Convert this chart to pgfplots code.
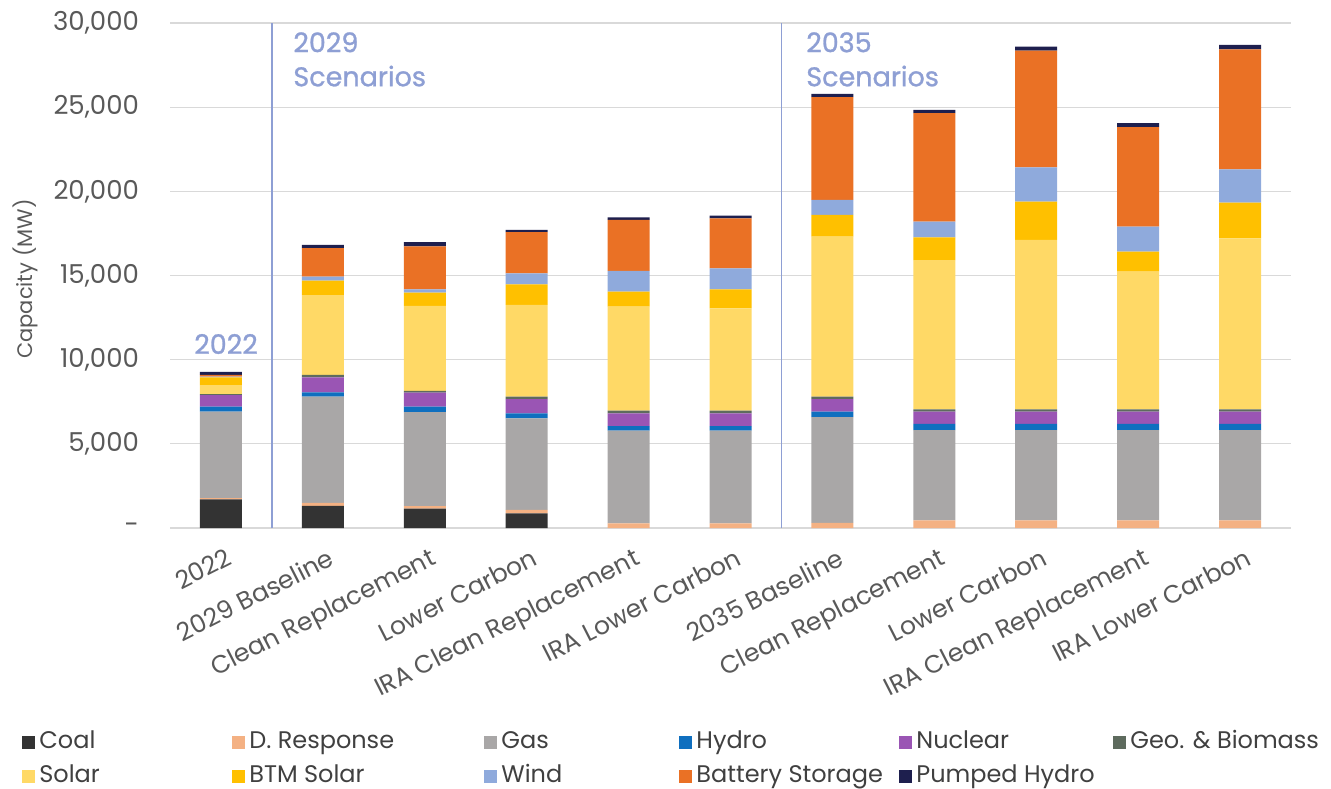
\documentclass[border=0pt]{standalone}
\usepackage{fontspec}
\setmainfont{Poppins}
\newfontfamily\medfont[FakeBold=1.0]{Poppins}
\usepackage{pgfplots}
\usepackage{pgfplotstable}
\pgfplotsset{compat=1.18}

\definecolor{cCoal}{HTML}{333333}
\definecolor{cDR}{HTML}{F4B183}
\definecolor{cGas}{HTML}{A9A7A7}
\definecolor{cHydro}{HTML}{0F6FBF}
\definecolor{cNuc}{HTML}{9A55B4}
\definecolor{cGeo}{HTML}{5E6B5E}
\definecolor{cSolar}{HTML}{FFD966}
\definecolor{cBTM}{HTML}{FFC000}
\definecolor{cWind}{HTML}{8FAADC}
\definecolor{cBatt}{HTML}{EA7125}
\definecolor{cPH}{HTML}{1E1F4E}
\definecolor{labelgray}{HTML}{595959}
\definecolor{textgray}{HTML}{404040}
\definecolor{gridgray}{HTML}{D9D9D9}
\definecolor{annot}{HTML}{8E9FD4}

\pgfplotstableread{
x  Coal DR  Gas  Hydro Nuc Geo Solar BTM  Wind Batt PH
0  1700 80  5130 300   690 60  530   460  50   100  180
1  1320 180 6300 260   890 140 4750  850  240  1690 200
2  1150 150 5580 330   840 100 5040  790  200  2550 250
3  870  200 5450 295   835 150 5450  1230 650  2440 140
4  0    280 5500 280   755 155 6180  890  1230 3030 160
5  0    280 5500 280   755 155 6080  1130 1250 2970 160
6  0    300 6280 330   740 150 9510  1290 890  6100 200
7  0    450 5370 360   730 140 8870  1350 930  6440 200
8  0    450 5370 360   730 140 10060 2280 2040 6930 240
9  0    450 5370 360   730 140 8180  1190 1480 5910 240
10 0    450 5370 360   730 140 10160 2120 1980 7130 260
}\data

\begin{document}
\begin{tikzpicture}
\begin{axis}[
  at={(0,0)}, anchor=south west,
  scale only axis, width=560.5pt, height=252.5pt,
  xmin=-0.5, xmax=10.5, ymin=0, ymax=30000,
  ybar stacked, bar width=21pt,
  scaled y ticks=false,
  xtick={0,...,10},
  xticklabels={2022, 2029 Baseline, Clean Replacement, Lower Carbon, IRA Clean Replacement, IRA Lower Carbon, 2035 Baseline, Clean Replacement, Lower Carbon, IRA Clean Replacement, IRA Lower Carbon},
  xticklabel style={rotate=27, anchor=north east, font=\fontsize{12.5}{14}\selectfont, text=labelgray, xshift=1pt, yshift=-6pt},
  ytick={0,5000,...,30000},
  yticklabels={{-\hspace{5pt}},{5,000},{10,000},{15,000},{20,000},{25,000},{30,000}},
  yticklabel style={font=\fontsize{13}{15}\selectfont, text=labelgray, xshift=-12pt},
  ymajorgrids, grid style={draw=gridgray, line width=0.6pt},
  axis line style={draw=none}, major tick length=0pt,
  ylabel={Capacity (MW)},
  ylabel style={at={(axis description cs:-0.1294,0.493)}, anchor=center, font=\fontsize{10.5}{12}\selectfont, text=labelgray},
  legend columns=6,
  legend style={at={(axis description cs:0,0)}, anchor=north west, xshift=-74pt, yshift=-99pt,
    draw=none, fill=none, inner sep=0pt, column sep=0pt, row sep=1pt,
    font=\fontsize{12}{14}\selectfont, text=textgray,
    nodes={inner sep=2pt, text height=9pt, text depth=3pt}},
  legend image code/.code={\fill[#1] (0pt,-3.25pt) rectangle (6.5pt,3.25pt);},
  clip=false,
]
\addplot[fill=cCoal, draw=none] table[x=x, y=Coal] {\data};
\addlegendentry{\makebox[94.5pt][l]{Coal}}
\addplot[fill=cDR, draw=none] table[x=x, y=DR] {\data};
\addlegendentry{\makebox[115.5pt][l]{D. Response}}
\addplot[fill=cGas, draw=none] table[x=x, y=Gas] {\data};
\addlegendentry{\makebox[87pt][l]{Gas}}
\addplot[fill=cHydro, draw=none] table[x=x, y=Hydro] {\data};
\addlegendentry{\makebox[99.5pt][l]{Hydro}}
\addplot[fill=cNuc, draw=none] table[x=x, y=Nuc] {\data};
\addlegendentry{\makebox[96.5pt][l]{Nuclear}}
\addplot[fill=cGeo, draw=none] table[x=x, y=Geo] {\data};
\addlegendentry{\makebox[94pt][l]{Geo. \& Biomass}}
\addplot[fill=cSolar, draw=none] table[x=x, y=Solar] {\data};
\addlegendentry{\makebox[94.5pt][l]{Solar}}
\addplot[fill=cBTM, draw=none] table[x=x, y=BTM] {\data};
\addlegendentry{\makebox[115.5pt][l]{BTM Solar}}
\addplot[fill=cWind, draw=none] table[x=x, y=Wind] {\data};
\addlegendentry{\makebox[87pt][l]{Wind}}
\addplot[fill=cBatt, draw=none] table[x=x, y=Batt] {\data};
\addlegendentry{\makebox[99.5pt][l]{Battery Storage}}
\addplot[fill=cPH, draw=none] table[x=x, y=PH] {\data};
\addlegendentry{\makebox[96.5pt][l]{Pumped Hydro}}

\draw[annot, line width=0.8pt] (axis cs:0.5,0) -- (axis cs:0.5,30000);
\draw[annot, line width=0.8pt] (axis cs:5.5,0) -- (axis cs:5.5,30000);
\node[font=\medfont\fontsize{13.5}{17}\selectfont, text=annot] at (axis cs:0.05,10930) {2022};
\node[anchor=north west, align=left, inner sep=0pt, font=\medfont\fontsize{13.5}{17}\selectfont, text=annot] at (axis cs:0.707,29470) {2029\\Scenarios};
\node[anchor=north west, align=left, inner sep=0pt, font=\medfont\fontsize{13.5}{17}\selectfont, text=annot] at (axis cs:5.74,29470) {2035\\Scenarios};
\end{axis}
\pgfresetboundingbox
\path[use as bounding box] (-85pt,-130pt) rectangle (580.5pt,264pt);
\end{tikzpicture}
\end{document}
